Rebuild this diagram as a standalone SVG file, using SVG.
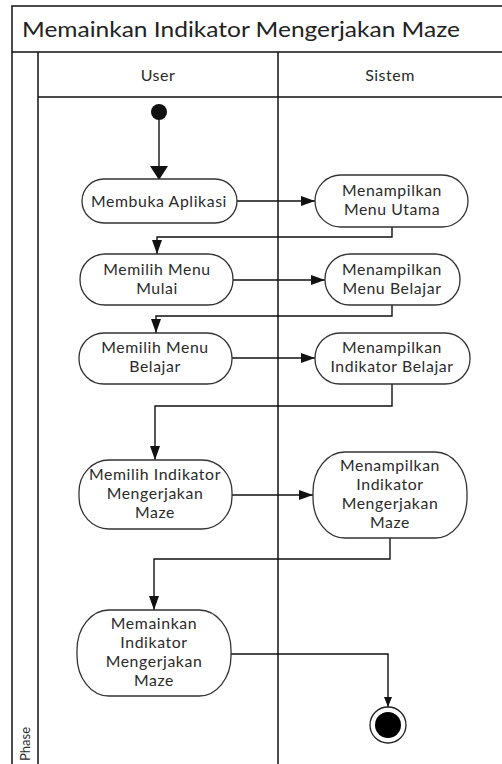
<svg xmlns="http://www.w3.org/2000/svg" width="502" height="764" viewBox="0 0 502 764">
<defs>
<style>
.frame{fill:none;stroke:#111;stroke-width:1.5}
.node rect{fill:#fff;stroke:#333;stroke-width:1.3}
.node text, .lbl{font-family:Lato,"Open Sans",sans-serif;font-size:15.8px;fill:#2a2a2a;text-anchor:middle}
.node text{letter-spacing:0.6px}
.conn{fill:none;stroke:#111;stroke-width:1.4}
.title{font-family:Lato,"Open Sans",sans-serif;font-size:21px;fill:#222}
.hdr{font-family:Lato,"Open Sans",sans-serif;font-size:16px;fill:#2a2a2a;text-anchor:middle;letter-spacing:0.5px}
</style>
<marker id="arr" markerUnits="userSpaceOnUse" markerWidth="14" markerHeight="10" refX="14" refY="5" orient="auto">
<path d="M0,0 L14,5 L0,10 Z" fill="#111"/>
</marker>
<marker id="arrBig" markerUnits="userSpaceOnUse" markerWidth="14" markerHeight="18" refX="14" refY="9" orient="auto">
<path d="M0,0 L14,9 L0,18 Z" fill="#111"/>
</marker>
<marker id="arrSm" markerUnits="userSpaceOnUse" markerWidth="10" markerHeight="8" refX="10" refY="4" orient="auto">
<path d="M0,0 L10,4 L0,8 Z" fill="#111"/>
</marker>
</defs>
<rect x="0" y="0" width="502" height="764" fill="#fff"/>
<g id="frame">
<path class="frame" d="M12,764 V6 H502"/>
<path class="frame" d="M12,52 H502"/>
<path class="frame" d="M38,764 V52"/>
<path class="frame" d="M38,97 H502"/>
<path class="frame" d="M278,764 V52"/>
<text class="title" x="22" y="37" textLength="438" lengthAdjust="spacingAndGlyphs">Memainkan Indikator Mengerjakan Maze</text>
<text class="hdr" x="158" y="81">User</text>
<text class="hdr" x="390" y="81">Sistem</text>
<text class="lbl" transform="translate(30,744) rotate(-90)" style="font-size:13px">Phase</text>
</g>
<g id="connectors">
<path class="conn" d="M159,112 V180" marker-end="url(#arrBig)"/>
<path class="conn" d="M237,201 H315" marker-end="url(#arr)"/>
<path class="conn" d="M392,227 V237 H157 V254" marker-end="url(#arr)"/>
<path class="conn" d="M233,280 H325" marker-end="url(#arr)"/>
<path class="conn" d="M392,305 V316 H156 V333" marker-end="url(#arr)"/>
<path class="conn" d="M232,358 H315" marker-end="url(#arr)"/>
<path class="conn" d="M392,384 V406 H155 V460" marker-end="url(#arr)"/>
<path class="conn" d="M232,495 H313" marker-end="url(#arr)"/>
<path class="conn" d="M390,538 V559 H154 V610" marker-end="url(#arr)"/>
<path class="conn" d="M231,654 H388 V707" marker-end="url(#arrSm)"/>
</g>
<g id="start"><circle cx="159" cy="112" r="8" fill="#111"/></g>
<g id="n1" class="node"><rect x="82" y="179" width="155" height="44" rx="22" ry="22"/><text x="159" y="207">Membuka Aplikasi</text></g>
<g id="n2" class="node"><rect x="315" y="175" width="153" height="52" rx="26" ry="26"/><text x="392" y="196">Menampilkan</text><text x="392" y="215">Menu Utama</text></g>
<g id="n3" class="node"><rect x="80" y="254" width="153" height="51" rx="25" ry="25"/><text x="157" y="275">Memilih Menu</text><text x="157" y="294">Mulai</text></g>
<g id="n4" class="node"><rect x="325" y="254" width="135" height="51" rx="25" ry="25"/><text x="392" y="275">Menampilkan</text><text x="392" y="294">Menu Belajar</text></g>
<g id="n5" class="node"><rect x="79" y="333" width="153" height="51" rx="25" ry="25"/><text x="155" y="353">Memilih Menu</text><text x="155" y="372">Belajar</text></g>
<g id="n6" class="node"><rect x="315" y="333" width="155" height="51" rx="25" ry="25"/><text x="392" y="353">Menampilkan</text><text x="392" y="372">Indikator Belajar</text></g>
<g id="n7" class="node"><rect x="79" y="460" width="153" height="69" rx="30" ry="32"/><text x="155" y="480">Memilih Indikator</text><text x="155" y="499">Mengerjakan</text><text x="155" y="518">Maze</text></g>
<g id="n8" class="node"><rect x="313" y="452" width="154" height="86" rx="32" ry="40"/><text x="390" y="471">Menampilkan</text><text x="390" y="490">Indikator</text><text x="390" y="509">Mengerjakan</text><text x="390" y="528">Maze</text></g>
<g id="n9" class="node"><rect x="77" y="610" width="154" height="86" rx="32" ry="40"/><text x="154" y="629">Memainkan</text><text x="154" y="648">Indikator</text><text x="154" y="667">Mengerjakan</text><text x="154" y="686">Maze</text></g>
<g id="end"><circle cx="388" cy="725" r="18" fill="#fff" stroke="#222" stroke-width="1.3"/><circle cx="388" cy="725" r="13" fill="#000"/></g>
</svg>
